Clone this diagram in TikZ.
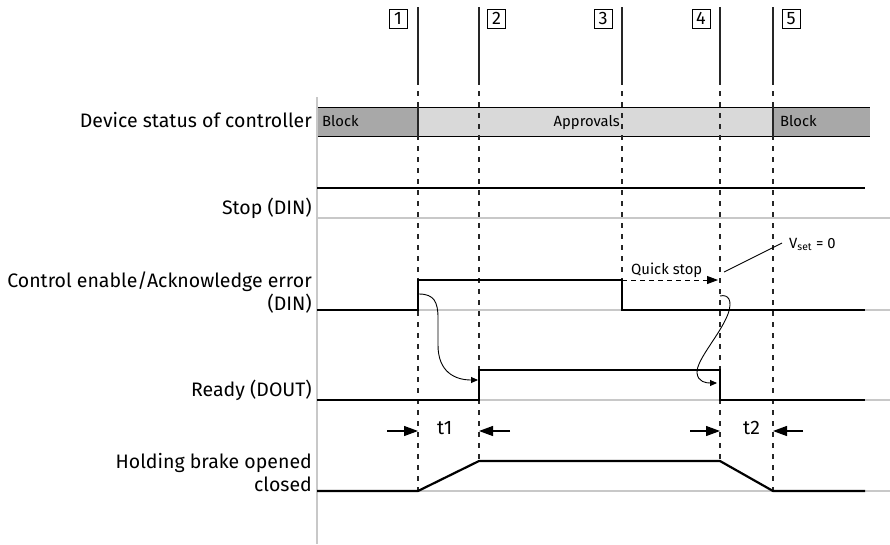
\documentclass[tikz,border=0pt]{standalone}
\usepackage{fontspec}
\setmainfont{Fira Sans}
\usetikzlibrary{arrows.meta}
\definecolor{blockgray}{HTML}{A8A8A8}
\definecolor{apprgray}{HTML}{D9D9D9}
\definecolor{basegray}{HTML}{C8C8C8}
\begin{document}
\begin{tikzpicture}[x=1pt,y=-1pt,
  sig/.style={line width=2.2pt, line join=miter},
  baseln/.style={draw=basegray, line width=1.2pt},
  mk/.style={line width=1.1pt, draw=black!85},
  mkdash/.style={mk, dash pattern=on 5pt off 6pt},
  lbl/.style={font=\fontsize{19.5}{23}\selectfont, align=right, anchor=base east, inner sep=0pt},
  small/.style={font=\fontsize{14.8}{17}\selectfont, inner sep=0pt},
  numbox/.style={draw, line width=0.8pt, minimum width=18pt, minimum height=19pt, inner sep=0pt, font=\fontsize{18}{18}\selectfont},
  thinln/.style={line width=0.9pt},
  bigtip/.style={-{Triangle[length=14pt,width=10pt]}, line width=1.2pt},
  ]
\useasboundingbox (0,0) rectangle (890,544);

% status bar
\fill[blockgray] (317,107) rectangle (418,136);
\fill[apprgray] (418,107) rectangle (773,136);
\fill[blockgray] (773,107) rectangle (870,136);
\draw[line width=0.9pt] (317,107) -- (870,107) (317,136) -- (870,136);

% gray base lines and axis
\foreach \y in {218,310,400,491} \draw[baseln] (317,\y) -- (890,\y);
\draw[draw=basegray, line width=2pt] (317,97) -- (317,544);

% time markers
\foreach \x/\e in {418/491, 479/461, 622/310, 720/461, 773/491} {
  \draw[mk] (\x,7) -- (\x,80);
  \draw[mkdash] (\x,80) -- (\x,\e);
}
\draw[mk] (418,107) -- (418,136);
\draw[mk] (773,107) -- (773,136);

\node[numbox] (n1) at (398,18.5) {1};
\node[numbox] (n2) at (496.5,18.5) {2};
\node[numbox] (n3) at (603,18.5) {3};
\node[numbox] (n4) at (701,18.5) {4};
\node[numbox] (n5) at (791,18.5) {5};

% bar texts
\node[small, anchor=base west] (blk1) at (322,126) {Block};
\node[small, anchor=base east] (appr) at (620,126) {Approvals};
\node[small, anchor=base west] (blk2) at (780,126) {Block};

% row labels
\node[lbl] (l1) at (312,127) {Device status of controller};
\node[lbl] (l2) at (312,214) {Stop (DIN)};
\node[lbl] (l3) at (312,310) {Control enable/Acknowledge error\\(DIN)};
\node[lbl] (l4) at (312,396) {Ready (DOUT)};
\node[lbl] (l5) at (312,491) {Holding brake opened\\closed};

% signals
\draw[sig] (317,188) -- (865,188);
\draw[sig] (317,310) -- (418,310) -- (418,280) -- (622,280) -- (622,310) -- (865,310);
\draw[sig] (317,400) -- (479,400) -- (479,370) -- (720,370) -- (720,400) -- (865,400);
\draw[sig] (317,491) -- (418,491) -- (479,461) -- (720,461) -- (773,491) -- (865,491);

% quick stop
\draw[thinln, dash pattern=on 5pt off 4pt, -{Triangle[length=11pt,width=8pt]}] (622,280) -- (718,280);
\node[small, anchor=base west] (qs) at (631,274) {Quick stop};
\node[small, anchor=base west] (vset) at (789,248) {V\textsubscript{set} = 0};
\coordinate (vs) at (782,243);
\draw[thinln] (724,272) -- (vs);

% causal arrows
\draw[thinln, -{Triangle[length=7pt,width=6pt]}] (419,294) .. controls (434,294) and (438,302) .. (438,318) -- (438,345) .. controls (438,372) and (455,380) .. (478,380);
\draw[thinln, -{Triangle[length=7pt,width=6pt]}] (720,296) .. controls (728,294) and (733,300) .. (728,314) .. controls (720,335) and (696,360) .. (697,373) .. controls (698,382) and (706,383) .. (717,383);

% t1, t2
\draw[bigtip] (387,431) -- (418,431);
\draw[bigtip] (510,431) -- (479,431);
\draw[bigtip] (690,431) -- (720,431);
\draw[bigtip] (803,431) -- (773,431);
\node[lbl, anchor=base west] (t1) at (437,434) {t1};
\node[lbl, anchor=base west] (t2) at (743,434) {t2};
\end{tikzpicture}
\end{document}
